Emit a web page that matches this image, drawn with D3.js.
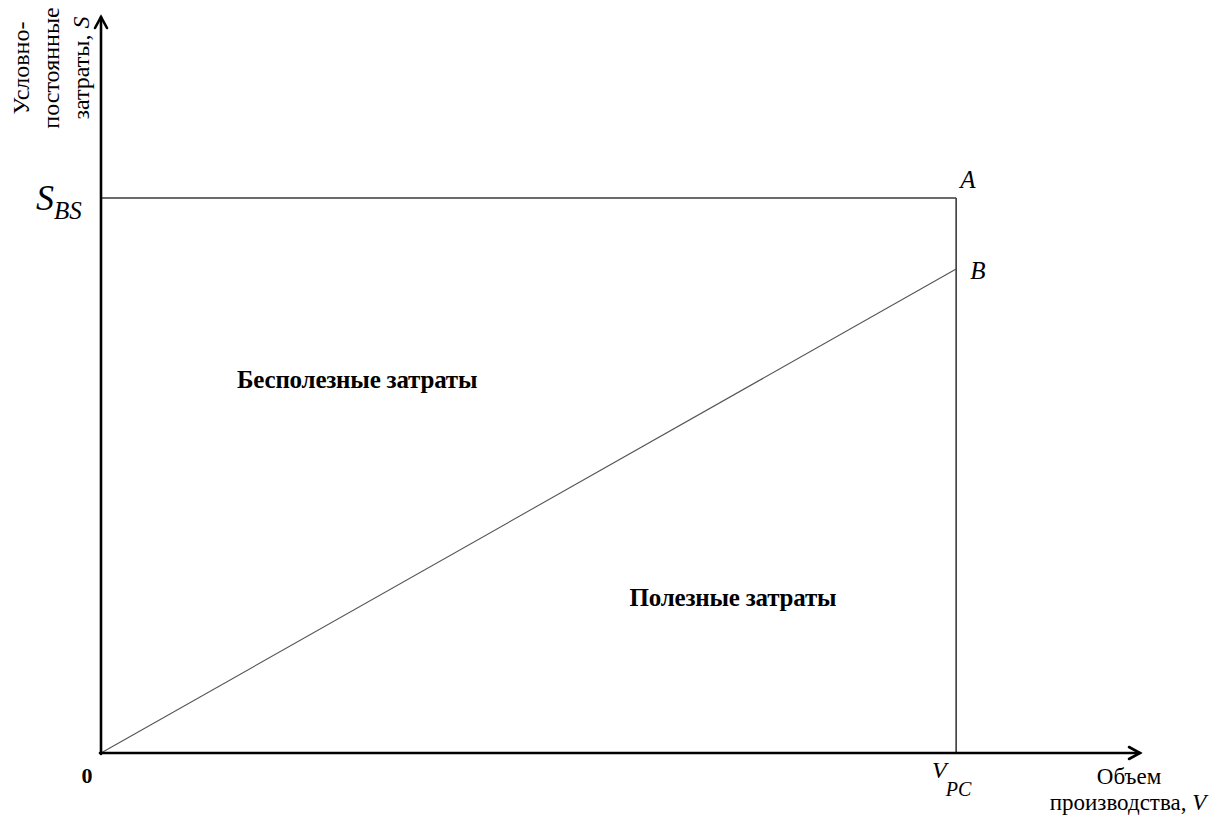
<!DOCTYPE html>
<html><head><meta charset="utf-8">
<script src="https://cdn.jsdelivr.net/npm/d3@7"></script>
<style>
html,body{margin:0;padding:0;background:#fff;}
svg{display:block;font-family:"Liberation Serif","Times New Roman",serif;}
</style></head>
<body>
<svg id="chart" width="1220" height="816"></svg>
<script>
// ---- data ----
const volumeDomain = [0, 121.5];       // production volume axis
const costDomain = [0, 132.6];         // fixed cost axis
const vPC = [100];                     // V_PC volume
const sBS = [100];                     // S_BS cost level
const usefulX = [0, 100];              // useful cost line volume
const usefulY = [0, 87.2];             // useful cost line values (0 -> B)
const pointNames = ["A", "B"];
const regionNames = ["Бесполезные затраты", "Полезные затраты"];
const regionX = [15.9, 61.8];
const regionY = [65.7, 26.4];
const yTitle = ["Условно-", "постоянные", "затраты, "];
const xTitle = ["Объем", "производства, "];

const svg = d3.select("#chart");
const x = d3.scaleLinear().domain(volumeDomain).range([101, 1140]);
const y = d3.scaleLinear().domain(costDomain).range([753, 17]);

// rectangle (A corner)
const rect = svg.append("g").attr("stroke", "#3a3a3a").attr("stroke-width", 1.6).attr("fill", "none");
rect.append("line").attr("x1", x(0)).attr("x2", x(vPC[0])).attr("y1", y(sBS[0])).attr("y2", y(sBS[0]));
rect.append("line").attr("x1", x(vPC[0])).attr("x2", x(vPC[0])).attr("y1", y(sBS[0])).attr("y2", y(0));

// useful cost line
const pts = usefulX.map((v, i) => [v, usefulY[i]]);
svg.append("path").datum(pts)
  .attr("d", d3.line().x(d => x(d[0])).y(d => y(d[1])))
  .attr("stroke", "#555").attr("stroke-width", 1.1).attr("fill", "none");

// axes
const ax = svg.append("g").attr("stroke", "#000").attr("stroke-width", 2.6).attr("fill", "none")
  .attr("stroke-linecap", "round").attr("stroke-linejoin", "miter");
ax.append("line").attr("x1", x(0)).attr("x2", x(0)).attr("y1", y(0) + 1).attr("y2", y(costDomain[1]));
ax.append("line").attr("x1", x(0) - 1).attr("x2", x(volumeDomain[1])).attr("y1", y(0)).attr("y2", y(0));
ax.append("path").attr("d", `M${x(0) - 6},${y(costDomain[1]) + 11} L${x(0)},${y(costDomain[1])} L${x(0) + 6},${y(costDomain[1]) + 11}`);
ax.append("path").attr("d", `M${x(volumeDomain[1]) - 11},${y(0) - 6} L${x(volumeDomain[1])},${y(0)} L${x(volumeDomain[1]) - 11},${y(0) + 6}`);

// origin label
svg.append("text").attr("x", x(0) - 14).attr("y", 783).attr("text-anchor", "middle")
  .attr("font-weight", "bold").attr("font-size", 22).text("0");

// S_BS label
const sl = svg.append("text").attr("x", 36).attr("y", y(sBS[0]) + 12).attr("font-style", "italic").attr("font-size", 36);
sl.append("tspan").text("S");
sl.append("tspan").attr("font-size", 25).attr("dy", 9).text("BS");

// V_PC label
const vl = svg.append("text").attr("x", 932).attr("y", 778).attr("font-style", "italic").attr("font-size", 24);
vl.append("tspan").text("V");
vl.append("tspan").attr("font-size", 20).attr("dy", 18).attr("dx", -1).text("PC");

// point labels A, B
svg.append("text").attr("x", x(vPC[0]) + 4).attr("y", y(sBS[0]) - 10).attr("font-style", "italic").attr("font-size", 25).text(pointNames[0]);
svg.append("text").attr("x", x(vPC[0]) + 14).attr("y", y(usefulY[1]) + 10).attr("font-style", "italic").attr("font-size", 25).text(pointNames[1]);

// region labels
regionNames.forEach((t, i) => {
  svg.append("text").attr("x", x(regionX[i])).attr("y", y(regionY[i]))
    .attr("font-weight", "bold").attr("font-size", 25).attr("letter-spacing", -0.2).text(t);
});

// y title (rotated)
const yt = svg.append("g").attr("transform", "translate(0,68) rotate(-90)");
[29, 59, 89].forEach((bx, i) => {
  const t = yt.append("text").attr("x", 0).attr("y", bx).attr("text-anchor", "middle").attr("font-size", 24);
  t.append("tspan").text(yTitle[i]);
  if (i === 2) t.append("tspan").attr("font-style", "italic").text("S");
});

// x title
svg.append("text").attr("x", 1129).attr("y", 784).attr("text-anchor", "middle").attr("font-size", 23).text(xTitle[0]);
const xt2 = svg.append("text").attr("x", 1128).attr("y", 810).attr("text-anchor", "middle").attr("font-size", 23);
xt2.append("tspan").text(xTitle[1]);
xt2.append("tspan").attr("font-style", "italic").text("V");
</script>
</body></html>
